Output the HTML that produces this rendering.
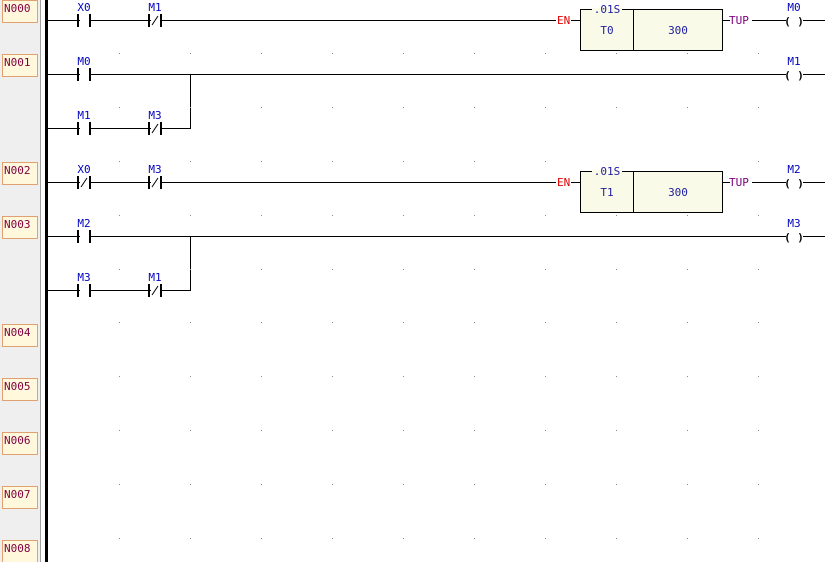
<!DOCTYPE html>
<html><head><meta charset="utf-8"><style>
html,body{margin:0;padding:0;background:#fff;width:825px;height:562px;overflow:hidden}
svg{display:block}
text{font-family:"DejaVu Sans Mono","Liberation Mono",monospace;font-size:11px}
</style></head><body>
<svg width="825" height="562" viewBox="0 0 825 562" xmlns="http://www.w3.org/2000/svg">
<rect x="0" y="0" width="40" height="562" fill="#efefef"/>
<line x1="40.5" y1="0" x2="40.5" y2="562" stroke="#a0a0a0"/>
<rect x="45" y="0" width="3" height="562" fill="#000"/>
<g fill="#fff8dc" stroke="#e0a070">
<rect x="2.5" y="0.5" width="35" height="22"/>
<rect x="2.5" y="54.5" width="35" height="22"/>
<rect x="2.5" y="162.5" width="35" height="22"/>
<rect x="2.5" y="216.5" width="35" height="22"/>
<rect x="2.5" y="324.5" width="35" height="22"/>
<rect x="2.5" y="378.5" width="35" height="22"/>
<rect x="2.5" y="432.5" width="35" height="22"/>
<rect x="2.5" y="486.5" width="35" height="22"/>
<rect x="2.5" y="540.5" width="35" height="22"/>
</g>
<g fill="#800040" font-size="10.5">
<text x="4" y="12">N000</text><text x="4" y="66">N001</text><text x="4" y="174">N002</text><text x="4" y="228">N003</text>
<text x="4" y="336">N004</text><text x="4" y="390">N005</text><text x="4" y="444">N006</text><text x="4" y="498">N007</text><text x="4" y="552">N008</text>
</g>
<g stroke="#000" stroke-width="1" fill="none">
<line x1="48" y1="20.5" x2="556" y2="20.5"/>
<line x1="571" y1="20.5" x2="580" y2="20.5"/>
<line x1="723" y1="20.5" x2="730" y2="20.5"/>
<line x1="752" y1="20.5" x2="786" y2="20.5"/>
<line x1="803" y1="20.5" x2="825" y2="20.5"/>
<line x1="48" y1="74.5" x2="786" y2="74.5"/>
<line x1="803" y1="74.5" x2="825" y2="74.5"/>
<polyline points="48,128.5 190.5,128.5 190.5,74"/>
<line x1="48" y1="182.5" x2="556" y2="182.5"/>
<line x1="571" y1="182.5" x2="580" y2="182.5"/>
<line x1="723" y1="182.5" x2="730" y2="182.5"/>
<line x1="752" y1="182.5" x2="786" y2="182.5"/>
<line x1="803" y1="182.5" x2="825" y2="182.5"/>
<line x1="48" y1="236.5" x2="786" y2="236.5"/>
<line x1="803" y1="236.5" x2="825" y2="236.5"/>
<polyline points="48,290.5 190.5,290.5 190.5,236"/>
</g>
<g stroke="#000" stroke-width="2">
<line x1="78" y1="14" x2="78" y2="27"/><line x1="90" y1="14" x2="90" y2="27"/>
<line x1="149" y1="14" x2="149" y2="27"/><line x1="161" y1="14" x2="161" y2="27"/>
<line x1="78" y1="68" x2="78" y2="81"/><line x1="90" y1="68" x2="90" y2="81"/>
<line x1="78" y1="122" x2="78" y2="135"/><line x1="90" y1="122" x2="90" y2="135"/>
<line x1="149" y1="122" x2="149" y2="135"/><line x1="161" y1="122" x2="161" y2="135"/>
<line x1="78" y1="176" x2="78" y2="189"/><line x1="90" y1="176" x2="90" y2="189"/>
<line x1="149" y1="176" x2="149" y2="189"/><line x1="161" y1="176" x2="161" y2="189"/>
<line x1="78" y1="230" x2="78" y2="243"/><line x1="90" y1="230" x2="90" y2="243"/>
<line x1="78" y1="284" x2="78" y2="297"/><line x1="90" y1="284" x2="90" y2="297"/>
<line x1="149" y1="284" x2="149" y2="297"/><line x1="161" y1="284" x2="161" y2="297"/>
</g>
<g fill="#fff">
<rect x="80" y="19" width="9" height="3"/><rect x="151" y="19" width="9" height="3"/>
<rect x="80" y="73" width="9" height="3"/>
<rect x="80" y="127" width="9" height="3"/><rect x="151" y="127" width="9" height="3"/>
<rect x="80" y="181" width="9" height="3"/><rect x="151" y="181" width="9" height="3"/>
<rect x="80" y="235" width="9" height="3"/>
<rect x="80" y="289" width="9" height="3"/><rect x="151" y="289" width="9" height="3"/>
</g>
<g stroke="#000" stroke-width="1">
<line x1="152" y1="25" x2="158" y2="16"/>
<line x1="152" y1="133" x2="158" y2="124"/>
<line x1="81" y1="187" x2="87" y2="178"/>
<line x1="152" y1="187" x2="158" y2="178"/>
<line x1="152" y1="295" x2="158" y2="286"/>
</g>
<g fill="#0000c0" text-anchor="middle">
<text x="84" y="11">X0</text><text x="155" y="11">M1</text>
<text x="84" y="65">M0</text>
<text x="84" y="119">M1</text><text x="155" y="119">M3</text>
<text x="84" y="173">X0</text><text x="155" y="173">M3</text>
<text x="84" y="227">M2</text>
<text x="84" y="281">M3</text><text x="155" y="281">M1</text>
<text x="794" y="11">M0</text><text x="794" y="65">M1</text><text x="794" y="173">M2</text><text x="794" y="227">M3</text>
</g>
<g fill="#000" font-weight="bold" text-anchor="middle" font-size="14">
<text x="794" y="25">( )</text><text x="794" y="79">( )</text><text x="794" y="187">( )</text><text x="794" y="241">( )</text>
</g>
<g stroke="#000" fill="#fafae8">
<rect x="580.5" y="9.5" width="142" height="41"/><line x1="633.5" y1="9.5" x2="633.5" y2="50.5"/>
<rect x="580.5" y="171.5" width="142" height="41"/><line x1="633.5" y1="171.5" x2="633.5" y2="212.5"/>
</g>
<g fill="#fafae8"><rect x="592" y="8" width="30" height="3"/><rect x="592" y="170" width="30" height="3"/></g>
<g fill="#2020a0" text-anchor="middle">
<text x="607" y="13">.01S</text><text x="607" y="34">T0</text><text x="678" y="34">300</text>
<text x="607" y="175">.01S</text><text x="607" y="196">T1</text><text x="678" y="196">300</text>
</g>
<g fill="#e00000"><text x="557" y="24">EN</text><text x="557" y="186">EN</text></g>
<g fill="#800080"><text x="729" y="24">TUP</text><text x="729" y="186">TUP</text></g>
<g fill="#888">
<rect x="119" y="53" width="1" height="1"/><rect x="190" y="53" width="1" height="1"/><rect x="261" y="53" width="1" height="1"/><rect x="332" y="53" width="1" height="1"/><rect x="403" y="53" width="1" height="1"/><rect x="474" y="53" width="1" height="1"/><rect x="545" y="53" width="1" height="1"/><rect x="616" y="53" width="1" height="1"/><rect x="687" y="53" width="1" height="1"/><rect x="758" y="53" width="1" height="1"/>
<rect x="119" y="107" width="1" height="1"/><rect x="190" y="107" width="1" height="1"/><rect x="261" y="107" width="1" height="1"/><rect x="332" y="107" width="1" height="1"/><rect x="403" y="107" width="1" height="1"/><rect x="474" y="107" width="1" height="1"/><rect x="545" y="107" width="1" height="1"/><rect x="616" y="107" width="1" height="1"/><rect x="687" y="107" width="1" height="1"/><rect x="758" y="107" width="1" height="1"/>
<rect x="119" y="161" width="1" height="1"/><rect x="190" y="161" width="1" height="1"/><rect x="261" y="161" width="1" height="1"/><rect x="332" y="161" width="1" height="1"/><rect x="403" y="161" width="1" height="1"/><rect x="474" y="161" width="1" height="1"/><rect x="545" y="161" width="1" height="1"/><rect x="758" y="161" width="1" height="1"/>
<rect x="119" y="215" width="1" height="1"/><rect x="190" y="215" width="1" height="1"/><rect x="261" y="215" width="1" height="1"/><rect x="332" y="215" width="1" height="1"/><rect x="403" y="215" width="1" height="1"/><rect x="474" y="215" width="1" height="1"/><rect x="545" y="215" width="1" height="1"/><rect x="616" y="215" width="1" height="1"/><rect x="687" y="215" width="1" height="1"/><rect x="758" y="215" width="1" height="1"/>
<rect x="119" y="269" width="1" height="1"/><rect x="190" y="269" width="1" height="1"/><rect x="261" y="269" width="1" height="1"/><rect x="332" y="269" width="1" height="1"/><rect x="403" y="269" width="1" height="1"/><rect x="474" y="269" width="1" height="1"/><rect x="545" y="269" width="1" height="1"/><rect x="616" y="269" width="1" height="1"/><rect x="687" y="269" width="1" height="1"/><rect x="758" y="269" width="1" height="1"/>
<rect x="119" y="322" width="1" height="1"/><rect x="190" y="322" width="1" height="1"/><rect x="261" y="322" width="1" height="1"/><rect x="332" y="322" width="1" height="1"/><rect x="403" y="322" width="1" height="1"/><rect x="474" y="322" width="1" height="1"/><rect x="545" y="322" width="1" height="1"/><rect x="616" y="322" width="1" height="1"/><rect x="687" y="322" width="1" height="1"/><rect x="758" y="322" width="1" height="1"/>
<rect x="119" y="376" width="1" height="1"/><rect x="190" y="376" width="1" height="1"/><rect x="261" y="376" width="1" height="1"/><rect x="332" y="376" width="1" height="1"/><rect x="403" y="376" width="1" height="1"/><rect x="474" y="376" width="1" height="1"/><rect x="545" y="376" width="1" height="1"/><rect x="616" y="376" width="1" height="1"/><rect x="687" y="376" width="1" height="1"/><rect x="758" y="376" width="1" height="1"/>
<rect x="119" y="430" width="1" height="1"/><rect x="190" y="430" width="1" height="1"/><rect x="261" y="430" width="1" height="1"/><rect x="332" y="430" width="1" height="1"/><rect x="403" y="430" width="1" height="1"/><rect x="474" y="430" width="1" height="1"/><rect x="545" y="430" width="1" height="1"/><rect x="616" y="430" width="1" height="1"/><rect x="687" y="430" width="1" height="1"/><rect x="758" y="430" width="1" height="1"/>
<rect x="119" y="484" width="1" height="1"/><rect x="190" y="484" width="1" height="1"/><rect x="261" y="484" width="1" height="1"/><rect x="332" y="484" width="1" height="1"/><rect x="403" y="484" width="1" height="1"/><rect x="474" y="484" width="1" height="1"/><rect x="545" y="484" width="1" height="1"/><rect x="616" y="484" width="1" height="1"/><rect x="687" y="484" width="1" height="1"/><rect x="758" y="484" width="1" height="1"/>
<rect x="119" y="538" width="1" height="1"/><rect x="190" y="538" width="1" height="1"/><rect x="261" y="538" width="1" height="1"/><rect x="332" y="538" width="1" height="1"/><rect x="403" y="538" width="1" height="1"/><rect x="474" y="538" width="1" height="1"/><rect x="545" y="538" width="1" height="1"/><rect x="616" y="538" width="1" height="1"/><rect x="687" y="538" width="1" height="1"/><rect x="758" y="538" width="1" height="1"/>
</g>
</svg>
</body></html>
